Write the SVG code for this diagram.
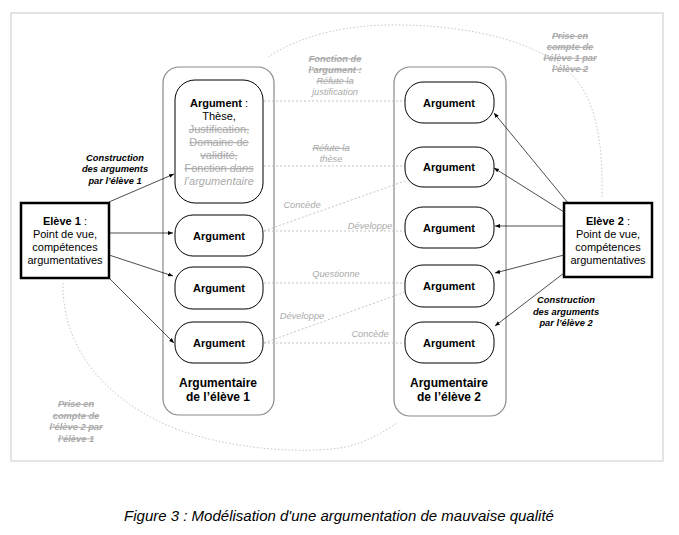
<svg xmlns="http://www.w3.org/2000/svg" width="679" height="535" viewBox="0 0 679 535">
<defs>
<marker id="ah" viewBox="0 0 10 10" refX="10" refY="5" markerWidth="5" markerHeight="5" orient="auto" markerUnits="userSpaceOnUse"><path d="M0,1 L10,5 L0,9 z" fill="#000"/></marker>
</defs>
<style>
text{font-family:"Liberation Sans",Arial,Helvetica,sans-serif;}
.frame{fill:none;stroke:#dcdcdc;stroke-width:1.5}
.ell{fill:none;stroke:#b8b8b8;stroke-width:0.8;stroke-dasharray:1.5 2}
.cont{fill:none;stroke:#8a8a8a;stroke-width:1.2}
.arg{fill:#fff;stroke:#000;stroke-width:1}
.eleve{fill:#fff;stroke:#000;stroke-width:2.5}
.dash{stroke:#b4b4b4;stroke-width:0.8;stroke-dasharray:2 2;fill:none}
.arr{stroke:#000;stroke-width:0.7;fill:none;marker-end:url(#ah)}
.t{font-size:11px;text-anchor:middle;fill:#000}
.ti{font-size:12px;font-weight:bold;text-anchor:middle;fill:#000}
.b{font-weight:bold}
.g{fill:#aaa}
.lbl{font-size:9.3px;font-style:italic;fill:#aaa;text-anchor:middle}
.bl{font-size:9.3px;font-style:italic;font-weight:bold;text-anchor:middle}
.s{text-decoration:line-through}
.cap{font-size:15px;font-style:italic;text-anchor:middle;fill:#000}
</style>
<rect class="frame" x="11" y="13" width="652" height="448"/>
<g id="perspective">
<path class="ell" d="M268,57 C300,36 345,24 400,25 C480,26 545,45 575,78 C598,105 603,150 602,198"/>
<path class="ell" d="M63,283 C62,340 95,390 160,422 C210,446 290,455 340,448 C365,444 383,432 397,423"/>
<g class="bl" fill="#aaa">
<text class="s" x="570" y="39">Prise en</text>
<text class="s" x="570" y="50">compte de</text>
<text class="s" x="570" y="61">l’élève 1 par</text>
<text class="s" x="570" y="72">l’élève 2</text>
<text class="s" x="76" y="407">Prise en</text>
<text class="s" x="76" y="418.5">compte de</text>
<text class="s" x="76" y="430">l’élève 2 par</text>
<text class="s" x="76" y="441.5">l’élève 1</text>
</g>
</g>
<g id="argumentaire1">
<rect class="cont" x="163" y="67" width="111" height="348" rx="16"/>
<text class="ti" x="218" y="387">Argumentaire</text>
<text class="ti" x="218" y="401">de l’élève 1</text>
</g>
<g id="argumentaire2">
<rect class="cont" x="394" y="67" width="112" height="349" rx="16"/>
<text class="ti" x="449" y="387">Argumentaire</text>
<text class="ti" x="449" y="401">de l’élève 2</text>
</g>
<g id="connectors">
<line class="dash" x1="264" y1="101" x2="405" y2="101"/>
<line class="dash" x1="264" y1="166" x2="405" y2="166"/>
<line class="dash" x1="264" y1="231" x2="405" y2="181"/>
<line class="dash" x1="264" y1="231" x2="405" y2="231"/>
<line class="dash" x1="264" y1="283" x2="405" y2="283"/>
<line class="dash" x1="264" y1="343" x2="405" y2="292"/>
<line class="dash" x1="264" y1="343" x2="405" y2="343"/>
<line class="arr" x1="109" y1="202" x2="174" y2="174"/>
<line class="arr" x1="109" y1="233" x2="173" y2="233"/>
<line class="arr" x1="109" y1="255" x2="173" y2="276"/>
<line class="arr" x1="109" y1="278" x2="174" y2="343"/>
<line class="arr" x1="568" y1="203" x2="494" y2="113"/>
<line class="arr" x1="564" y1="212" x2="494" y2="168"/>
<line class="arr" x1="564" y1="226" x2="495" y2="226"/>
<line class="arr" x1="564" y1="255" x2="495" y2="273"/>
<line class="arr" x1="564" y1="273" x2="495" y2="326"/>
<g class="lbl">
<text class="b s" x="335" y="61.5">Fonction de</text>
<text class="b s" x="335" y="72.5">l’argument :</text>
<text class="s" x="335" y="84">Réfute la</text>
<text x="335" y="95">justification</text>
<text class="s" x="331" y="151">Réfute la</text>
<text x="331" y="161.5">thèse</text>
<text x="302" y="208">Concède</text>
<text x="370" y="229">Développe</text>
<text x="336" y="277">Questionne</text>
<text x="302" y="319">Développe</text>
<text x="370" y="337">Concède</text>
</g>
<g class="bl" fill="#000">
<text x="115" y="160.5">Construction</text>
<text x="115" y="172">des arguments</text>
<text x="115" y="183.5">par l’élève 1</text>
<text x="566" y="303">Construction</text>
<text x="566" y="314.5">des arguments</text>
<text x="566" y="326">par l’élève 2</text>
</g>
</g>
<g id="arg1-1">
<rect class="arg" x="175" y="80" width="88" height="123" rx="20"/>
<text class="t" x="219" y="107"><tspan class="b">Argument</tspan> :</text>
<text class="t" x="219" y="120">Thèse,</text>
<text class="t g s" x="219" y="133">Justification,</text>
<text class="t g s" x="219" y="146">Domaine de</text>
<text class="t g s" x="219" y="159">validité,</text>
<text class="t g s" x="219" y="172">Fonction <tspan font-style="italic">dans</tspan></text>
<text class="t g" x="219" y="185" font-style="italic">l’argumentaire</text>
</g>
<g id="arg1-2">
<rect class="arg" x="175" y="215" width="88" height="41" rx="18"/>
<text class="t b" x="219" y="239.5">Argument</text>
</g>
<g id="arg1-3">
<rect class="arg" x="175" y="267" width="88" height="42" rx="18"/>
<text class="t b" x="219" y="292">Argument</text>
</g>
<g id="arg1-4">
<rect class="arg" x="175" y="322" width="88" height="41" rx="18"/>
<text class="t b" x="219" y="346.5">Argument</text>
</g>
<g id="arg2-1">
<rect class="arg" x="405" y="82" width="89" height="41" rx="18"/>
<text class="t b" x="449" y="106.5">Argument</text>
</g>
<g id="arg2-2">
<rect class="arg" x="405" y="147" width="89" height="40" rx="18"/>
<text class="t b" x="449" y="171">Argument</text>
</g>
<g id="arg2-3">
<rect class="arg" x="405" y="207" width="89" height="41" rx="18"/>
<text class="t b" x="449" y="231.5">Argument</text>
</g>
<g id="arg2-4">
<rect class="arg" x="405" y="265" width="89" height="42" rx="18"/>
<text class="t b" x="449" y="290">Argument</text>
</g>
<g id="arg2-5">
<rect class="arg" x="405" y="322" width="89" height="41" rx="18"/>
<text class="t b" x="449" y="346.5">Argument</text>
</g>
<g id="eleve1">
<rect class="eleve" x="21" y="203" width="88" height="75"/>
<text class="t" x="65" y="225"><tspan class="b">Elève 1</tspan> :</text>
<text class="t" x="65" y="238">Point de vue,</text>
<text class="t" x="65" y="251">compétences</text>
<text class="t" x="65" y="264">argumentatives</text>
</g>
<g id="eleve2">
<rect class="eleve" x="564" y="203" width="88" height="74"/>
<text class="t" x="608" y="225"><tspan class="b">Elève 2</tspan> :</text>
<text class="t" x="608" y="238">Point de vue,</text>
<text class="t" x="608" y="251">compétences</text>
<text class="t" x="608" y="264">argumentatives</text>
</g>
<text class="cap" x="339" y="521">Figure 3 : Modélisation d'une argumentation de mauvaise qualité</text>
</svg>
